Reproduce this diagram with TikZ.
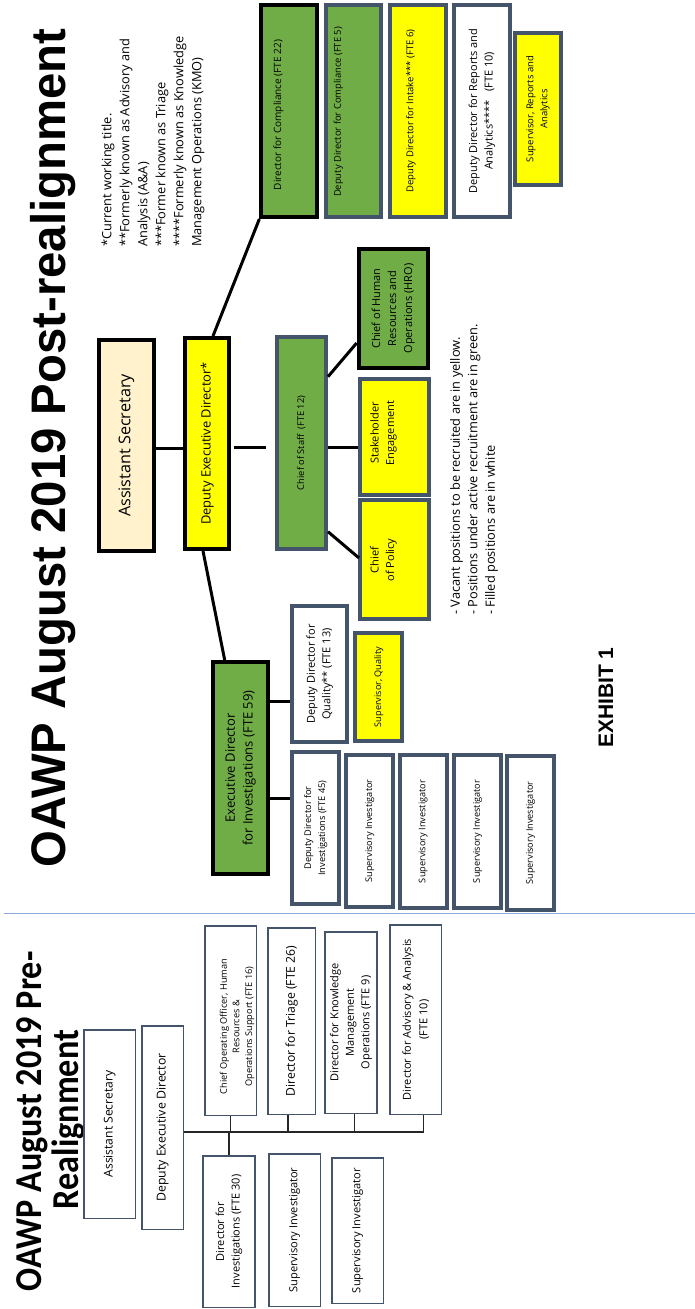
\documentclass[tikz,border=0pt]{standalone}
\usepackage{fontspec}
\setmainfont{Open Sans}
\newfontfamily\arialf{Liberation Sans}
\newfontfamily\calf{Carlito}
\usetikzlibrary{calc}
\definecolor{ogreen}{HTML}{70AD47}
\definecolor{oyellow}{HTML}{FFFF00}
\definecolor{ocream}{HTML}{FFF2CC}
\definecolor{oslate}{HTML}{44546A}
\definecolor{osep}{HTML}{8EA9DB}
\newcommand{\myfs}[2]{\fontsize{#1}{#2}\selectfont}
\tikzset{
  bx/.style={rotate=90, inner sep=0pt, align=center},
  blk/.style={bx, draw=black, line width=4pt},
  slt/.style={bx, draw=oslate, line width=4pt},
  prebox/.style={bx, draw=oslate, line width=1.5pt, fill=white},
  txt/.style={rotate=90, inner sep=0pt, align=center},
  conn/.style={line width=3pt, black},
  pconn/.style={line width=1.3pt, black!85},
  sepline/.style={line width=1pt, osep}
}
\begin{document}
\begin{tikzpicture}[x=1pt,y=1pt]
\useasboundingbox (0,0) rectangle (695,-1309);
\fill[white] (0,0) rectangle (695,-1309);

% ---------- titles ----------
\node[txt, anchor=base, font=\arialf\bfseries\myfs{48.5}{52}] (title) at (65,-448)
  {\scalebox{0.975}[1]{OAWP August 2019 Post-realignment}};
\node[txt, anchor=base, font=\calf\bfseries\myfs{38}{40}] (ptitleA) at (41,-1121.5)
  {\scalebox{0.9}[1]{OAWP August 2019 Pre-}};
\node[txt, anchor=base, font=\calf\bfseries\myfs{38}{40}] (ptitleB) at (78,-1119.5)
  {\scalebox{0.9}[1]{Realignment}};
\node[txt, anchor=base, font=\arialf\bfseries\myfs{21}{24}] (exh) at (613,-697.5) {EXHIBIT 1};

% ---------- notes ----------
\node[txt, anchor=west, align=left, font=\myfs{12.8}{18}] (notes) at (153,-247)
  {*Current working title.\\**Formerly known as Advisory and\\Analysis (A\&A)\\***Former known as Triage\\****Formerly known as Knowledge\\Management Operations (KMO)};
\node[txt, anchor=west, align=left, font=\myfs{12.8}{17.5}] (legend) at (474,-615)
  {- Vacant positions to be recruited are in yellow.\\- Positions under active recruitment are in green.\\- Filled positions are in white};

% ---------- post-realignment boxes ----------
\node[blk, fill=ocream, minimum width=211, minimum height=55.4, font=\myfs{16.2}{19}] (as) at (126.3,-445.5) {Assistant Secretary};
\node[blk, fill=oyellow, minimum width=211, minimum height=44.4, font=\myfs{12.9}{15}] (ded) at (207.2,-443.5) {Deputy Executive Director*};
\node[slt, fill=ogreen, minimum width=212, minimum height=49.2, font=\myfs{9.3}{11}] (cos) at (301.4,-443) {Chief of Staff~~(FTE 12)};
\node[blk, fill=ogreen, minimum width=119.5, minimum height=69.3, font=\myfs{11}{16}] (hro) at (393.3,-308.5) {Chief of Human\\Resources and\\Operations (HRO)};
\node[slt, fill=oyellow, minimum width=116, minimum height=68.8] (se) at (394.4,-437) {};
\node[txt, font=\myfs{11}{15.5}] (set) at (383.5,-433) {Stakeholder\\Engagement};
\node[slt, fill=oyellow, minimum width=119, minimum height=68.8] (cp) at (394.4,-559.5) {};
\node[txt, font=\myfs{11}{15.5}] (cpt) at (383.5,-560) {Chief\\of Policy};

\node[blk, fill=ogreen, minimum width=212, minimum height=55.7] (dc) at (289.2,-111) {};
\node[txt, font=\myfs{10}{12}] (dct) at (278.5,-115) {Director for Compliance (FTE 22)};
\node[slt, fill=ogreen, minimum width=212, minimum height=55.9] (ddc) at (353.5,-111) {};
\node[txt, font=\myfs{9.4}{11}] (ddct) at (338.5,-112) {Deputy Director for Compliance (FTE 5)};
\node[slt, fill=oyellow, minimum width=212, minimum height=55.8] (ddin) at (417.7,-111) {};
\node[txt, font=\myfs{9.5}{11}] (ddint) at (411,-111) {Deputy Director for Intake*** (FTE 6)};
\node[slt, fill=white, minimum width=212, minimum height=56, font=\myfs{11}{15.5}] (ddra) at (482,-111) {Deputy Director for Reports and\\Analytics****~~~(FTE 10)};
\node[slt, fill=oyellow, minimum width=152, minimum height=46.1, font=\myfs{9.5}{14}] (sra) at (537.9,-109) {Supervisor, Reports and\\Analytics};

\node[blk, fill=ogreen, minimum width=212, minimum height=55.9, font=\myfs{13}{17.7}] (edi) at (240.5,-768) {Executive Director\\for Investigations (FTE 59)};
\node[slt, fill=white, minimum width=136, minimum height=54.9, font=\myfs{11}{15.6}] (ddq) at (319.8,-674) {Deputy Director for\\Quality** (FTE 13)};
\node[slt, fill=oyellow, minimum width=108, minimum height=47, font=\myfs{9.1}{11}] (sq) at (378.7,-687) {Supervisor, Quality};
\node[slt, fill=white, minimum width=152, minimum height=47, font=\myfs{9.25}{14}] (ddi) at (315.8,-828) {Deputy Director for\\Investigations (FTE 45)};
\node[slt, fill=white, minimum width=152, minimum height=47, font=\myfs{9.15}{11}] (si1) at (369.9,-831) {Supervisory Investigator};
\node[slt, fill=white, minimum width=153, minimum height=47, font=\myfs{9.15}{11}] (si2) at (423,-831.5) {Supervisory Investigator};
\node[slt, fill=white, minimum width=153, minimum height=47, font=\myfs{9.15}{11}] (si3) at (477.5,-831.5) {Supervisory Investigator};
\node[slt, fill=white, minimum width=154, minimum height=47, font=\myfs{9.15}{11}] (si4) at (530.7,-833) {Supervisory Investigator};

% ---------- post connectors ----------
\draw[conn] ($(as.south)+(0,-2.5)$) -- ($(ded.north)+(0,-4.5)$);
\draw[conn] ($(ded.south)+(3,-3.5)$) -- ($(cos.north)+(-9,-4)$);
\draw[conn] ($(ded.east)+(5.8,0)$) -- (dc.north west);
\draw[conn] ($(ded.west)+(-4.2,0)$) -- ($(edi.east)+(-15.8,0)$);
\draw[conn] ($(cos.south)+(0,66.3)$) -- ($(hro.north)+(0,-34.5)$);
\draw[conn] ($(cos.south)+(0,-4.7)$) -- ($(se.north)+(0,-10.7)$);
\draw[conn] ($(cos.south)+(0,-88.7)$) -- ($(cp.north)+(1,1.5)$);
\draw[conn] ($(edi.south)+(0,67)$) -- ($(ddq.north)+(0,-27)$);
\draw[conn] ($(edi.south)+(0,-30)$) -- ($(ddi.north)+(0,30)$);

% ---------- separator ----------
\draw[sepline] (3.5,-913) -- (695,-913);

% ---------- pre-realignment boxes ----------
\node[prebox, minimum width=188.5, minimum height=51.2, font=\myfs{12.1}{14}] (pas) at (109.7,-1124) {Assistant Secretary};
\node[prebox, minimum width=203.5, minimum height=41.5, font=\myfs{12.3}{14}] (pded) at (162.5,-1127.5) {Deputy Executive Director};
\node[prebox, minimum width=189.5, minimum height=51.5] (coo) at (230.5,-1020.5) {};
\node[txt, font=\myfs{9.2}{12.6}] (coot) at (237,-1026.5) {Chief Operating Officer, Human\\Resources \&\\Operations Support (FTE 16)};
\node[prebox, minimum width=186.5, minimum height=47.2, font=\myfs{12.2}{14}] (tri) at (291.7,-1021) {Director for Triage (FTE 26)};
\node[prebox, minimum width=181.5, minimum height=51.7, font=\myfs{11}{15.5}] (kmo) at (351,-1022.5) {Director for Knowledge\\Management\\Operations (FTE 9)};
\node[prebox, minimum width=189.5, minimum height=51.8, font=\myfs{11}{16.5}] (adv) at (415.7,-1019.5) {Director for Advisory \& Analysis\\(FTE 10)};
\node[prebox, minimum width=151.5, minimum height=52.2, font=\myfs{11}{15.5}] (pdi) at (228.9,-1231.5) {Director for\\Investigations (FTE 30)};
\node[prebox, minimum width=152.5, minimum height=51.8, font=\myfs{11.1}{13}] (psi1) at (294.7,-1230) {Supervisory Investigator};
\node[prebox, minimum width=145.5, minimum height=51.8, font=\myfs{11.1}{13}] (psi2) at (357.7,-1230.5) {Supervisory Investigator};

% ---------- pre connectors ----------
\coordinate (bus) at (0,-1132);
\draw[pconn] (pded.south |- bus) -| ($(adv.west)+(7.6,0)$);
\draw[pconn] (coo.west) -- (coo.west |- bus);
\draw[pconn] ($(tri.west)+(-3.7,0)$) -- ++(0,-17);
\draw[pconn] ($(kmo.west)+(3.6,0)$) -- ++(0,-18);
\draw[pconn] (pdi.east) -- (pdi.east |- bus);
\end{tikzpicture}
\end{document}
